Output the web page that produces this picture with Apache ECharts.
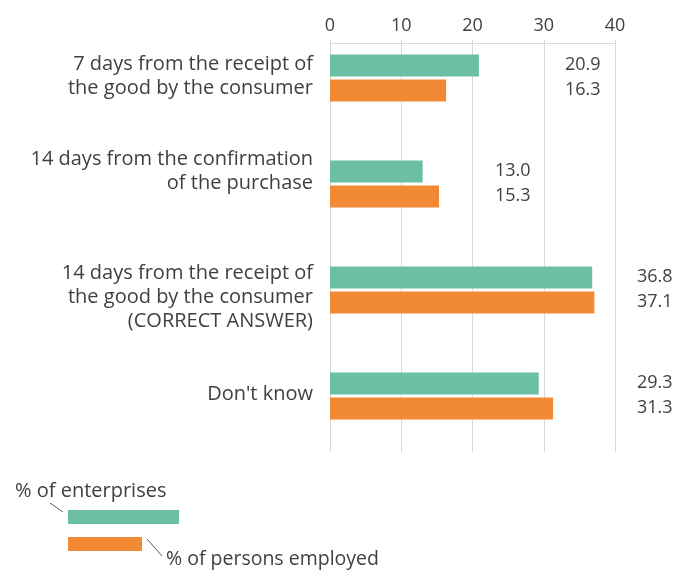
<!DOCTYPE html>
<html>
<head>
<meta charset="utf-8">
<script src="https://cdn.jsdelivr.net/npm/echarts@6/dist/echarts.min.js"></script>
<style>
  html, body { margin: 0; padding: 0; background: #fff; }
  #chart { width: 675px; height: 572px; }
</style>
</head>
<body>
<div id="chart"></div>
<script>
// Answer options (top to bottom)
const categories = [
  '7 days from the receipt of\nthe good by the consumer',
  '14 days from the confirmation\nof the purchase',
  '14 days from the receipt of\nthe good by the consumer\n(CORRECT ANSWER)',
  "Don't know"
];
// Share of enterprises (%)
const enterprises = [20.9, 13.0, 36.8, 29.3];
// Share of persons employed (%)
const personsEmployed = [16.3, 15.3, 37.1, 31.3];
// Value-axis ticks
const axisTicks = [0, 10, 20, 30, 40];
const seriesNames = ['% of enterprises', '% of persons employed'];

const GREEN = '#6bbfa3';
const ORANGE = '#f28a35';
const TEXT = '#404040';
const FONT = 'Open Sans';

// Value labels sit in a column per answer, measured from the bar base
const labelColumn = [230, 160, 302, 302];
// Spacer lines (px) added above / below each answer text to nudge it vertically
const spacerAbove = [0, 0, 14, 0];
const spacerBelow = [4, 26, 0, 4];

function seriesData(values) {
  return values.map((v, i) => ({
    value: v,
    label: { offset: [labelColumn[i], -1] }
  }));
}

const richSpacers = {};
[...new Set(spacerAbove.concat(spacerBelow))].forEach(h => {
  richSpacers['s' + h] = { fontSize: 1, lineHeight: h, height: h };
});

function categoryLabel(value, index) {
  let txt = value;
  if (spacerAbove[index] > 0) txt = '{s' + spacerAbove[index] + '| }\n' + txt;
  if (spacerBelow[index] > 0) txt = txt + '\n{s' + spacerBelow[index] + '| }';
  return txt;
}

const chart = echarts.init(document.getElementById('chart'), null, { renderer: 'canvas' });

chart.setOption({
  backgroundColor: '#ffffff',
  animation: false,
  textStyle: { fontFamily: FONT, color: TEXT },
  grid: [
    // frame with value axis and gridlines
    { left: 330, right: 60, top: 43, bottom: 120 },
    // bars
    { left: 330, right: 60, top: 25, bottom: 123 }
  ],
  xAxis: [
    {
      gridIndex: 0, type: 'value', position: 'top',
      min: axisTicks[0], max: axisTicks[axisTicks.length - 1], interval: 10,
      axisLine: { show: true, lineStyle: { color: '#d9d9d9', width: 1 } },
      axisTick: { show: true, length: 3, lineStyle: { color: '#d9d9d9' } },
      splitLine: { show: true, lineStyle: { color: '#d9d9d9', width: 1 } },
      axisLabel: { color: TEXT, fontSize: 18, fontFamily: FONT, margin: 8 }
    },
    {
      gridIndex: 1, type: 'value', position: 'top',
      min: axisTicks[0], max: axisTicks[axisTicks.length - 1], interval: 10,
      axisLine: { show: false }, axisTick: { show: false },
      splitLine: { show: false }, axisLabel: { show: false }
    }
  ],
  yAxis: [
    {
      gridIndex: 0, type: 'category', inverse: true,
      data: categories.map(() => ''),
      axisLine: { show: false }, axisTick: { show: false }, axisLabel: { show: false }
    },
    {
      gridIndex: 1, type: 'category', inverse: true,
      data: categories,
      axisLine: { show: false }, axisTick: { show: false },
      axisLabel: {
        color: TEXT, fontSize: 20, fontFamily: FONT, lineHeight: 24,
        align: 'right', margin: 17,
        formatter: categoryLabel,
        rich: richSpacers
      }
    }
  ],
  series: [
    {
      name: seriesNames[0], type: 'bar', xAxisIndex: 1, yAxisIndex: 1,
      data: seriesData(enterprises),
      barWidth: 22, barGap: '14%',
      itemStyle: { color: GREEN },
      label: {
        show: true, position: 'insideLeft', distance: 5,
        color: TEXT, fontSize: 18, fontFamily: FONT,
        formatter: p => p.value.toFixed(1)
      }
    },
    {
      name: seriesNames[1], type: 'bar', xAxisIndex: 1, yAxisIndex: 1,
      data: seriesData(personsEmployed),
      barWidth: 22, barGap: '14%',
      itemStyle: { color: ORANGE },
      label: {
        show: true, position: 'insideLeft', distance: 5,
        color: TEXT, fontSize: 18, fontFamily: FONT,
        formatter: p => p.value.toFixed(1)
      }
    }
  ],
  graphic: [
    // hand-drawn style key in the lower left corner
    { type: 'text', left: 15, top: 481,
      style: { text: seriesNames[0], fill: TEXT, font: '20px "' + FONT + '"' } },
    { type: 'line', shape: { x1: 50, y1: 503, x2: 63, y2: 512 },
      style: { stroke: '#595959', lineWidth: 1 } },
    { type: 'rect', shape: { x: 68, y: 510, width: 111, height: 14 },
      style: { fill: GREEN } },
    { type: 'rect', shape: { x: 68, y: 537, width: 74, height: 14 },
      style: { fill: ORANGE } },
    { type: 'line', shape: { x1: 147, y1: 539, x2: 162, y2: 556 },
      style: { stroke: '#595959', lineWidth: 1 } },
    { type: 'text', left: 166, top: 549,
      style: { text: seriesNames[1], fill: TEXT, font: '19.5px "' + FONT + '"' } }
  ]
});
</script>
</body>
</html>
